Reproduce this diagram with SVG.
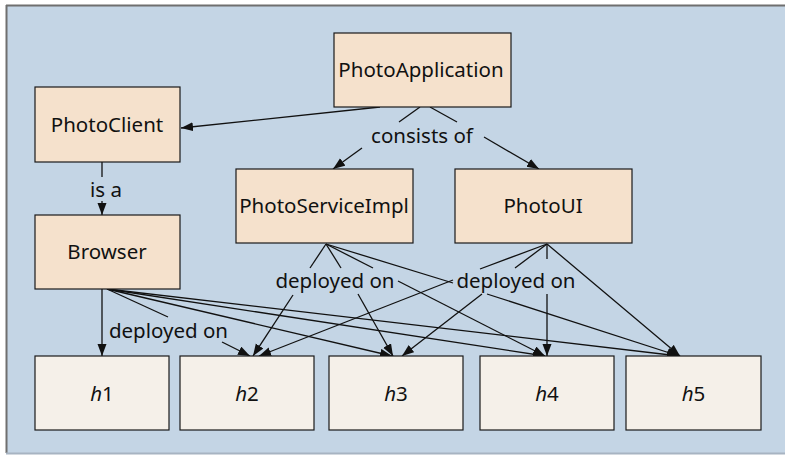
<svg xmlns="http://www.w3.org/2000/svg" width="785" height="455" viewBox="0 0 785 455">
  <style>
    .node rect { stroke: #1a1a1a; stroke-width: 1.2; }
    .top rect { fill: #f5e1cc; }
    .host rect { fill: #f5f0e9; }
    text { font-family: "Noto Sans", "Open Sans", sans-serif; font-size: 20.5px; fill: #111; text-anchor: middle; }
    .edges line { stroke: #111; stroke-width: 1.3; }
    .arr { marker-end: url(#head); }
  </style>
  <defs>
    <marker id="head" markerUnits="userSpaceOnUse" markerWidth="13" markerHeight="10" refX="12" refY="4.5" orient="auto" viewBox="0 0 13 10">
      <path d="M0,0 L12,4.5 L0,9 z" fill="#111"/>
    </marker>
  </defs>

  <!-- panel -->
  <rect x="0" y="0" width="785" height="455" fill="#ffffff"/>
  <rect x="6" y="5" width="779" height="448" fill="#c4d5e5"/>
  <line x1="6" y1="5.5" x2="785" y2="5.5" stroke="#6f6f6f" stroke-width="2"/>
  <line x1="6.5" y1="5" x2="6.5" y2="453" stroke="#6f6f6f" stroke-width="2"/>
  <line x1="6" y1="453.5" x2="785" y2="453.5" stroke="#a7b4c2" stroke-width="2"/>

  <!-- connectors -->
  <g class="edges">
    <line class="arr" x1="380" y1="107" x2="181" y2="128"/>
    <line x1="420" y1="107" x2="399" y2="122"/>
    <line class="arr" x1="362" y1="148" x2="333" y2="169"/>
    <line x1="430" y1="107" x2="457" y2="122"/>
    <line class="arr" x1="484" y1="137" x2="539" y2="169"/>
    <line x1="102" y1="162" x2="102" y2="177"/>
    <line class="arr" x1="102" y1="201" x2="102" y2="215"/>

    <line class="arr" x1="102" y1="289" x2="102" y2="356"/>
    <line x1="107" y1="289" x2="168" y2="317"/>
    <line class="arr" x1="222" y1="342" x2="250" y2="356"/>
    <line class="arr" x1="107" y1="289" x2="392" y2="356"/>
    <line class="arr" x1="107" y1="289" x2="545" y2="356"/>
    <line class="arr" x1="107" y1="289" x2="679" y2="356"/>

    <line x1="326" y1="244" x2="310" y2="268"/>
    <line class="arr" x1="293" y1="295" x2="253" y2="356"/>
    <line x1="326" y1="244" x2="341" y2="268"/>
    <line class="arr" x1="358" y1="294" x2="393" y2="356"/>
    <line x1="326" y1="244" x2="373" y2="268"/>
    <line class="arr" x1="398" y1="281" x2="545" y2="356"/>
    <line x1="326" y1="244" x2="453" y2="283"/>
    <line class="arr" x1="487" y1="294" x2="679" y2="356"/>

    <line x1="547" y1="244" x2="480" y2="269"/>
    <line class="arr" x1="453" y1="280" x2="259" y2="356"/>
    <line x1="547" y1="244" x2="515" y2="268"/>
    <line class="arr" x1="482" y1="294" x2="402" y2="356"/>
    <line x1="547" y1="244" x2="547" y2="259"/>
    <line class="arr" x1="547" y1="294" x2="547" y2="356"/>
    <line class="arr" x1="547" y1="244" x2="680" y2="356"/>
  </g>

  <!-- connector labels -->
  <g id="labels">
    <text x="422" y="143">consists of</text>
    <text x="106" y="197">is a</text>
    <text x="168.5" y="338">deployed on</text>
    <text x="335" y="288">deployed on</text>
    <text x="516" y="288">deployed on</text>
  </g>

  <!-- nodes -->
  <g id="PhotoApplication" class="node top"><rect x="334" y="33" width="177" height="74"/><text x="421" y="77">PhotoApplication</text></g>
  <g id="PhotoClient" class="node top"><rect x="35" y="87" width="145" height="75"/><text x="107" y="132">PhotoClient</text></g>
  <g id="Browser" class="node top"><rect x="35" y="215" width="145" height="74"/><text x="107" y="259">Browser</text></g>
  <g id="PhotoServiceImpl" class="node top"><rect x="236" y="169" width="177" height="74"/><text x="324" y="213">PhotoServiceImpl</text></g>
  <g id="PhotoUI" class="node top"><rect x="455" y="169" width="177" height="74"/><text x="543" y="213">PhotoUI</text></g>

  <g id="h1" class="node host"><rect x="35" y="356" width="134" height="74"/><text x="102" y="401"><tspan font-style="italic">h</tspan>1</text></g>
  <g id="h2" class="node host"><rect x="180" y="356" width="134" height="74"/><text x="247" y="401"><tspan font-style="italic">h</tspan>2</text></g>
  <g id="h3" class="node host"><rect x="329" y="356" width="134" height="74"/><text x="396" y="401"><tspan font-style="italic">h</tspan>3</text></g>
  <g id="h4" class="node host"><rect x="480" y="356" width="134" height="74"/><text x="547" y="401"><tspan font-style="italic">h</tspan>4</text></g>
  <g id="h5" class="node host"><rect x="626" y="356" width="135" height="74"/><text x="693.5" y="401"><tspan font-style="italic">h</tspan>5</text></g>
</svg>
